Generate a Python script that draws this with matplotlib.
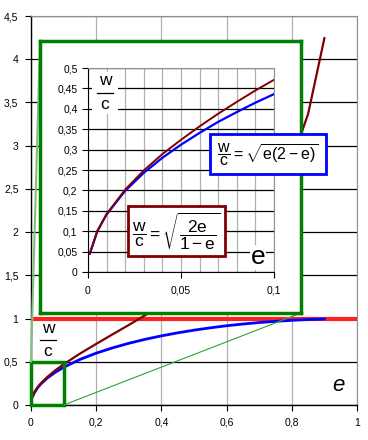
import numpy as np
import matplotlib.pyplot as plt
from matplotlib.patches import Rectangle, ConnectionPatch
from matplotlib.transforms import offset_copy

plt.rcParams['font.family'] = ['Liberation Sans', 'DejaVu Sans']
plt.rcParams['mathtext.fontset'] = 'custom'
plt.rcParams['mathtext.rm'] = 'Liberation Sans'
plt.rcParams['mathtext.it'] = 'Liberation Sans:italic'
plt.rcParams['mathtext.default'] = 'regular'

# werte
e_main = [0.005, 0.01, 0.02, 0.03, 0.05, 0.075, 0.1, 0.15, 0.2, 0.25, 0.3, 0.35, 0.4,
          0.45, 0.5, 0.55, 0.6, 0.65, 0.7, 0.75, 0.8, 0.85, 0.9]
brown_main = [0.10, 0.142, 0.202, 0.249, 0.324, 0.403, 0.471, 0.594, 0.707, 0.817, 0.926, 1.038, 1.155,
              1.279, 1.414, 1.564, 1.732, 1.927, 2.160, 2.449, 2.828, 3.367, 4.243]
blue_main = [0.10, 0.141, 0.199, 0.243, 0.312, 0.380, 0.436, 0.527, 0.600, 0.661, 0.714, 0.760, 0.800,
             0.835, 0.866, 0.893, 0.917, 0.937, 0.954, 0.968, 0.980, 0.989, 0.995]

e_zoom = [0.001, 0.005, 0.01, 0.02, 0.03, 0.04, 0.05, 0.06, 0.07, 0.08, 0.09, 0.1]
brown_zoom = [0.045, 0.100, 0.142, 0.202, 0.249, 0.289, 0.324, 0.357, 0.388, 0.417, 0.445, 0.471]
blue_zoom = [0.045, 0.100, 0.141, 0.199, 0.243, 0.280, 0.312, 0.341, 0.368, 0.392, 0.415, 0.436]

main_xticks = [0, 0.2, 0.4, 0.6, 0.8, 1]
main_yticks = [0, 0.5, 1, 1.5, 2, 2.5, 3, 3.5, 4, 4.5]
zoom_xticks = [0, 0.05, 0.1]
zoom_yticks = [0, 0.05, 0.1, 0.15, 0.2, 0.25, 0.3, 0.35, 0.4, 0.45, 0.5]


def komma(v):
    return ('%g' % v).replace('.', ',')


def bruch(a, x, y, weiss=False):
    # w ueber c, mit strich dazwischen (abstaende in punkten)
    oben = offset_copy(a.transData, fig=fig, x=0, y=8.5, units='points')
    unten = offset_copy(a.transData, fig=fig, x=0, y=-8.5, units='points')
    a.text(x, y, 'w', transform=oben, fontsize=12.5, ha='center', va='center', zorder=6)
    a.text(x, y, 'c', transform=unten, fontsize=12.5, ha='center', va='center', zorder=6)
    px, py = a.transData.transform((x, y))
    a.plot([px - 8, px + 8], [py, py], color='black', lw=0.9, transform=None, zorder=6)
    if weiss:
        a.add_patch(Rectangle((px - 13, py - 21), 26, 42, transform=None,
                              facecolor='white', edgecolor='none', zorder=1.5))


brown = '#800000'
blue = '#0000ff'
green = '#008000'

fig = plt.figure(figsize=(3.68, 4.40), dpi=100)

# hauptdiagramm
ax = fig.add_axes([0.0842, 0.0795, 0.8859, 0.8841])
ax.set_xlim(0, 1)
ax.set_ylim(0, 4.5)
ax.set_xticks(main_xticks, [komma(v) for v in main_xticks])
ax.set_yticks(main_yticks, [komma(v) for v in main_yticks])
ax.tick_params(labelsize=7.5, length=4, width=0.8, pad=5)
ax.set_axisbelow(True)
ax.grid(axis='y', color='black', lw=0.9)
ax.grid(axis='x', color='#b0b0b0', lw=0.9)
for s in ['top', 'right']:
    ax.spines[s].set_color('#909090')
for s in ['left', 'bottom']:
    ax.spines[s].set_linewidth(1.0)

ax.plot(e_main, blue_main, color=blue, lw=2.0, zorder=3)
ax.plot(e_main, brown_main, color=brown, lw=1.6, zorder=3)
ax.axhline(1, color='#ff2020', lw=3, zorder=2.5)
ax.add_patch(Rectangle((0, 0), 0.1, 0.5, fill=False, edgecolor=green, lw=2.5, zorder=4, clip_on=False))
ax.text(0.942, 0.23, 'e', fontsize=16, style='italic', ha='center', va='center')

# gruener rahmen fuer die lupe
box = fig.add_axes([0.1087, 0.2886, 0.7092, 0.6182], zorder=1)
box.set_xticks([])
box.set_yticks([])
for s in box.spines.values():
    s.set_color(green)
    s.set_linewidth(2.5)

con1 = ConnectionPatch(xyA=(0, 0.5), coordsA=ax.transData, xyB=(0, 1), coordsB=box.transAxes,
                       color='#80c080', lw=1.5, zorder=0.5)
con2 = ConnectionPatch(xyA=(0.1, 0), coordsA=ax.transData, xyB=(1, 0), coordsB=box.transAxes,
                       color='#33a033', lw=0.8, zorder=0.5)
fig.add_artist(con1)
fig.add_artist(con2)

# vergroesserter ausschnitt
ins = fig.add_axes([0.2391, 0.3818, 0.5054, 0.4636], zorder=2)
ins.set_xlim(0, 0.1)
ins.set_ylim(0, 0.5)
ins.set_xticks(zoom_xticks, [komma(v) for v in zoom_xticks])
ins.set_yticks(zoom_yticks, [komma(v) for v in zoom_yticks])
ins.set_xticks(np.arange(0, 0.1, 0.01), minor=True)
ins.tick_params(labelsize=7.5, length=4, width=0.8)
ins.tick_params(axis='x', pad=6)
ins.tick_params(which='minor', length=0)
ins.set_axisbelow(True)
ins.grid(axis='y', color='black', lw=0.9)
ins.grid(axis='x', which='both', color='#b0b0b0', lw=0.9)
for s in ['top', 'right']:
    ins.spines[s].set_color('#909090')

ins.plot(e_zoom, blue_zoom, color=blue, lw=1.6, zorder=3)
ins.plot(e_zoom, brown_zoom, color=brown, lw=1.4, zorder=3)

bruch(ax, 0.052, 0.75)
bruch(ins, 0.0092, 0.44, weiss=True)

ins.text(0.0914, 0.036, 'e', fontsize=19, ha='center', va='center',
         bbox=dict(facecolor='white', edgecolor='none', pad=0.5))
ins.text(0.0478, 0.10, r'$\dfrac{w}{c} = \sqrt{\dfrac{2e}{1-e}}$', fontsize=12.5, ha='center', va='center',
         zorder=5, bbox=dict(facecolor='white', edgecolor=brown, lw=2, pad=3))
ins.text(0.0968, 0.289, r'$\dfrac{w}{c} = \sqrt{e(2-e)}$', fontsize=11.5, ha='center', va='center',
         zorder=5, clip_on=False, bbox=dict(facecolor='white', edgecolor=blue, lw=2, pad=5))

fig.savefig('out.png', dpi=100)
